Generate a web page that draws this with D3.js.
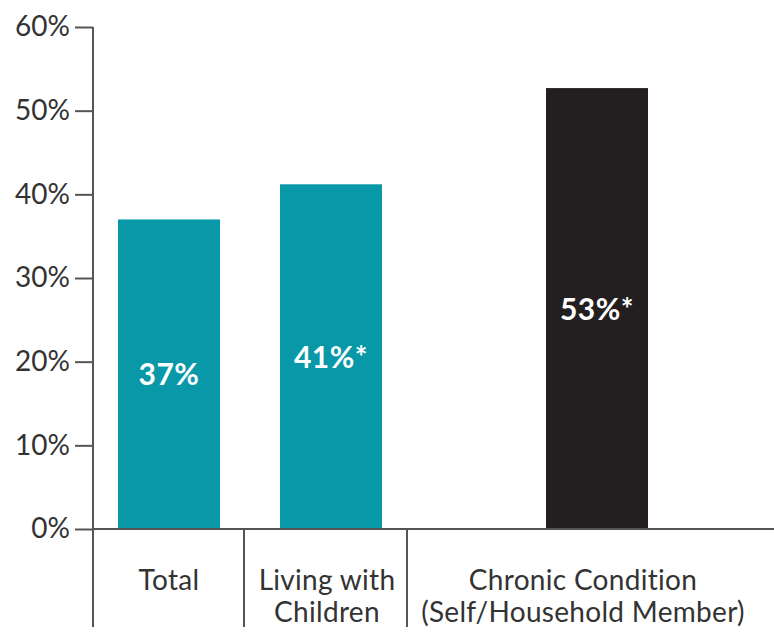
<!DOCTYPE html>
<html>
<head>
<script src="https://d3js.org/d3.v7.min.js"></script>
<style>
  body { margin: 0; background: #fff; }
  text { font-family: Lato, "Noto Sans", sans-serif; }
</style>
</head>
<body>
<script>
// data
const categories = ["Total", "Living with Children", "Chronic Condition (Self/Household Member)"];
const values = [37, 41.2, 52.7];
const valueLabels = ["37%", "41%*", "53%*"];
const catLines = [["Total"], ["Living with", "Children"], ["Chronic Condition", "(Self/Household Member)"]];
const yTicks = [0, 10, 20, 30, 40, 50, 60];

// layout
const W = 774, H = 637;
const axisX = 93, y0 = 529, yTop = 27;
const barW = 102;
const barCenters = [169, 331, 597];      // bar centres by category
const labelCenters = [169, 327, 583];    // category label centres
const separators = [244, 407];
const colors = ["#0898a7", "#0898a7", "#231f20"];

const svg = d3.select("body").append("svg")
  .attr("width", W).attr("height", H);

const y = d3.scaleLinear().domain([0, 60]).range([y0, yTop]);
const xc = d3.scaleOrdinal().domain(categories).range(barCenters);
const xl = d3.scaleOrdinal().domain(categories).range(labelCenters);

// bars
svg.selectAll("rect.bar")
  .data(categories)
  .enter().append("rect")
    .attr("class", "bar")
    .attr("x", d => xc(d) - barW / 2)
    .attr("width", barW)
    .attr("y", (d, i) => y(values[i]))
    .attr("height", (d, i) => y0 - y(values[i]))
    .attr("fill", (d, i) => colors[i]);

// value labels inside bars
svg.selectAll("text.val")
  .data(categories)
  .enter().append("text")
    .attr("class", "val")
    .attr("x", d => xc(d))
    .attr("y", (d, i) => (y(values[i]) + y0) / 2 + 11)
    .attr("text-anchor", "middle")
    .attr("fill", "#fff")
    .attr("font-weight", "bold")
    .attr("font-size", 30)
    .attr("letter-spacing", 0.5)
    .text((d, i) => valueLabels[i]);

// y axis
const yAxis = svg.append("g")
  .attr("transform", `translate(${axisX},0)`)
  .call(d3.axisLeft(y).tickValues(yTicks).tickFormat(d => d + "%").tickSize(18).tickPadding(5));
yAxis.select(".domain").remove();
yAxis.selectAll(".tick line").attr("stroke", "#555").attr("stroke-width", 2);
yAxis.selectAll(".tick text")
  .attr("font-size", 28).attr("fill", "#333")
  .style("font-family", "Lato, 'Noto Sans', sans-serif");

// axis lines
svg.append("line")
  .attr("x1", axisX).attr("x2", axisX).attr("y1", yTop).attr("y2", 627)
  .attr("stroke", "#555").attr("stroke-width", 2);
svg.append("line")
  .attr("x1", axisX).attr("x2", W).attr("y1", y0).attr("y2", y0)
  .attr("stroke", "#555").attr("stroke-width", 2);
svg.selectAll("line.sep")
  .data(separators)
  .enter().append("line")
    .attr("class", "sep")
    .attr("x1", d => d).attr("x2", d => d)
    .attr("y1", y0).attr("y2", 627)
    .attr("stroke", "#555").attr("stroke-width", 2);

// category labels
const cat = svg.selectAll("text.cat")
  .data(categories)
  .enter().append("text")
    .attr("class", "cat")
    .attr("text-anchor", "middle")
    .attr("font-size", 28)
    .attr("letter-spacing", 0.3)
    .attr("fill", "#333");
cat.each(function(d, i) {
  const t = d3.select(this);
  catLines[i].forEach((line, j) => {
    t.append("tspan")
      .attr("x", xl(d))
      .attr("y", 590 + j * 32)
      .text(line);
  });
});
</script>
</body>
</html>
